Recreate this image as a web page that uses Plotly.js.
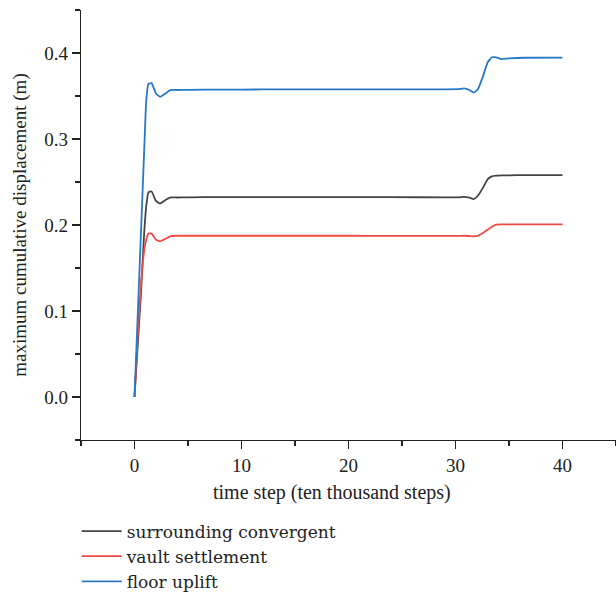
<!DOCTYPE html>
<html>
<head>
<meta charset="utf-8">
<script src="https://cdn.plot.ly/plotly-3.0.1.min.js"></script>
<style>html,body{margin:0;padding:0;background:#fff;}#chart{width:616px;height:595px;}</style>
</head>
<body>
<div id="chart"></div>
<script>
// time step (ten thousand steps)
const timeSteps = [0, 0.3, 0.6, 0.9, 1.1, 1.3, 1.6, 2.0, 2.4, 2.9, 3.4, 4, 5, 8, 12, 16, 20, 24, 29,
  30.3, 30.8, 31.3, 31.7, 32.1, 32.6, 33.0, 33.4, 33.8, 34.3, 35, 36.5, 40];

const surroundingConvergent = [0, 0.06, 0.12, 0.19, 0.222, 0.238, 0.239, 0.228, 0.225, 0.229, 0.232, 0.232, 0.2322, 0.2324, 0.2325, 0.2325, 0.2324, 0.2323, 0.2322,
  0.2322, 0.2328, 0.2318, 0.2302, 0.234, 0.244, 0.253, 0.2565, 0.2573, 0.2577, 0.2578, 0.258, 0.2581];

const vaultSettlement = [0, 0.07, 0.13, 0.17, 0.183, 0.190, 0.190, 0.183, 0.181, 0.184, 0.187, 0.1875, 0.1875, 0.1875, 0.1875, 0.1875, 0.1875, 0.1874, 0.1873,
  0.1873, 0.1875, 0.1872, 0.1868, 0.1875, 0.191, 0.1945, 0.198, 0.2005, 0.2008, 0.2008, 0.2008, 0.2008];

const floorUplift = [0, 0.095, 0.19, 0.285, 0.345, 0.364, 0.365, 0.353, 0.349, 0.353, 0.357, 0.357, 0.3572, 0.3574, 0.3576, 0.3578, 0.3578, 0.3578, 0.3578,
  0.358, 0.3588, 0.357, 0.354, 0.358, 0.374, 0.389, 0.395, 0.395, 0.393, 0.3938, 0.3945, 0.3946];

const seriesNames = ["surrounding convergent", "vault settlement", "floor uplift"];
const xTitle = "time step (ten thousand steps)";
const yTitle = "maximum cumulative displacement (m)";

const FONT = "Liberation Serif, Times New Roman, serif";

const traces = [
  {x: timeSteps, y: surroundingConvergent, name: seriesNames[0], type: "scatter", mode: "lines",
   line: {color: "#444444", width: 1.8, shape: "spline", smoothing: 0.4}},
  {x: timeSteps, y: vaultSettlement, name: seriesNames[1], type: "scatter", mode: "lines",
   line: {color: "#f04a45", width: 1.8, shape: "spline", smoothing: 0.4}},
  {x: timeSteps, y: floorUplift, name: seriesNames[2], type: "scatter", mode: "lines",
   line: {color: "#2878c8", width: 1.8, shape: "spline", smoothing: 0.4}}
];

const layout = {
  width: 616, height: 595,
  margin: {l: 81, r: 0, t: 10, b: 155, autoexpand: false},
  paper_bgcolor: "#fff", plot_bgcolor: "#fff",
  font: {family: FONT, size: 17, color: "#222"},
  showlegend: true,
  legend: {x: -0.008, xanchor: "left", y: -0.171, yanchor: "top", orientation: "v",
           font: {family: "DejaVu Serif, serif", size: 17, color: "#222"}, bgcolor: "rgba(0,0,0,0)", itemwidth: 40},
  xaxis: {
    range: [-5, 45], showgrid: false, zeroline: false,
    showline: true, linecolor: "#222", linewidth: 1.3,
    ticks: "outside", ticklen: 8, tickwidth: 1.3, tickcolor: "#222",
    tickmode: "linear", tick0: 0, dtick: 10,
    minor: {ticks: "outside", ticklen: 5, tickwidth: 1.3, tickcolor: "#222", dtick: 5, tick0: -5},
    tickfont: {family: FONT, size: 19, color: "#222"},
    ticklabelstandoff: 0,
    fixedrange: true
  },
  yaxis: {
    range: [-0.05, 0.45], showgrid: false, zeroline: false,
    showline: true, linecolor: "#222", linewidth: 1.3,
    ticks: "outside", ticklen: 8, tickwidth: 1.3, tickcolor: "#222",
    tickmode: "linear", tick0: 0, dtick: 0.1, tickformat: ".1f",
    minor: {ticks: "outside", ticklen: 5, tickwidth: 1.3, tickcolor: "#222", dtick: 0.05, tick0: 0.05},
    tickfont: {family: FONT, size: 19, color: "#222"},
    title: {text: yTitle, font: {family: FONT, size: 19, color: "#222"}, standoff: 12},
    fixedrange: true
  },
  annotations: [
    {text: xTitle, xref: "paper", yref: "paper", x: (332 - 81) / 535, y: -0.122, xanchor: "center", yanchor: "middle",
     showarrow: false, font: {family: FONT, size: 20, color: "#222"}}
  ]
};

Plotly.newPlot("chart", traces, layout, {displayModeBar: false, staticPlot: true});
</script>
</body>
</html>
